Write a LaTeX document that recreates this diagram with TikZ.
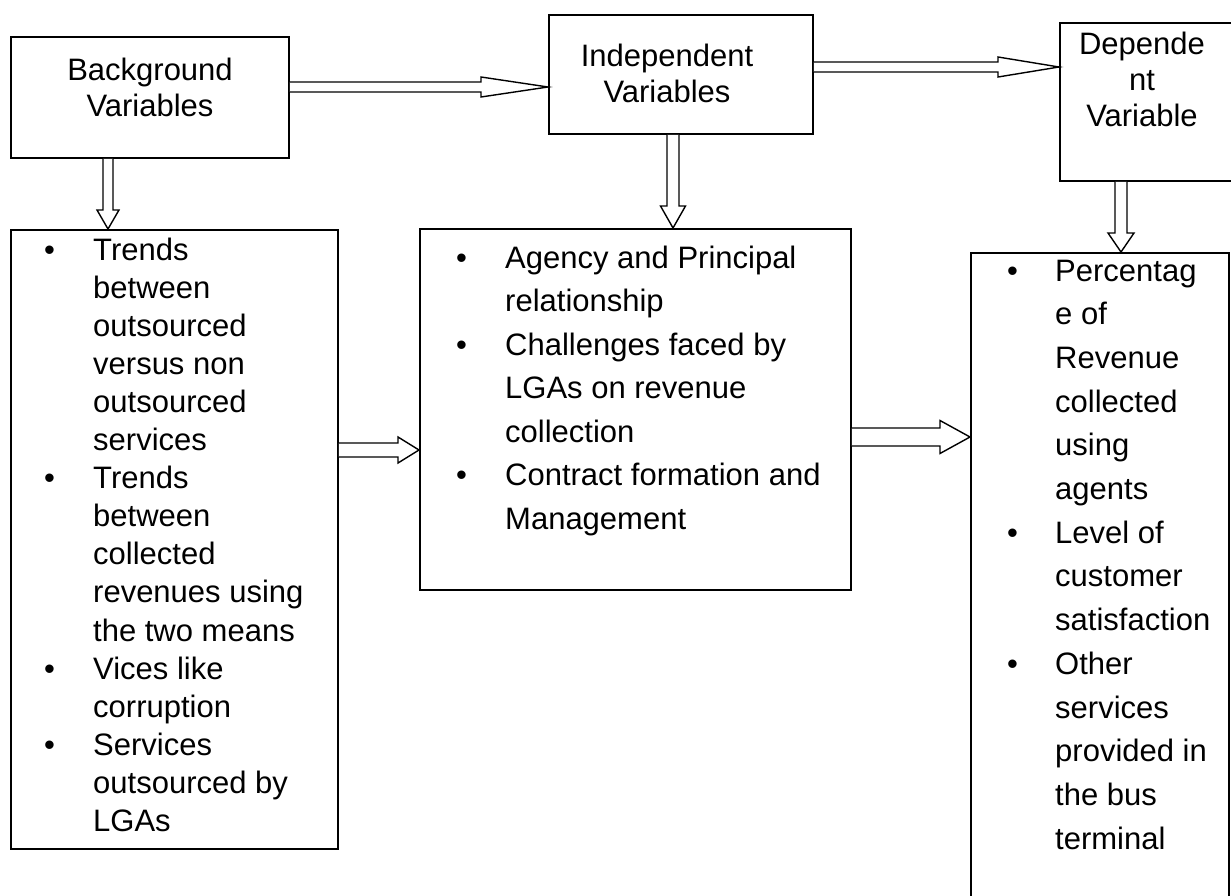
\documentclass[tikz,border=0pt]{standalone}
\usepackage{fontspec}
\setmainfont{Liberation Sans}
\usetikzlibrary{calc}
\tikzset{
  box/.style={draw=black, line width=1.8pt, fill=none, anchor=north west, inner sep=0pt},
  blk/.style={draw=black, line width=1.4pt, fill=white, line join=miter},
  ttl/.style={inner sep=0pt, anchor=base, font=\fontsize{31}{35.6}\selectfont},
  lst/.style={inner sep=0pt, anchor=base west},
}
\newcommand\rblock[5]{% start, tip, shaft half, head half, head length
  \draw[blk] ($(#1)+(0,-#3)$) -- ($(#2)+(-#5,-#3)$) -- ($(#2)+(-#5,-#4)$) -- (#2)
    -- ($(#2)+(-#5,#4)$) -- ($(#2)+(-#5,#3)$) -- ($(#1)+(0,#3)$);}
\newcommand\dblock[5]{% start, tip, shaft half, head half, head length
  \draw[blk] ($(#1)+(-#3,0)$) -- ($(#2)+(-#3,-#5)$) -- ($(#2)+(-#4,-#5)$) -- (#2)
    -- ($(#2)+(#4,-#5)$) -- ($(#2)+(#3,-#5)$) -- ($(#1)+(#3,0)$);}
\begin{document}
\begin{tikzpicture}[x=1pt,y=-1pt]
\useasboundingbox (0,0) rectangle (1231,896);
\fill[white] (0,0) rectangle (1231,896);

% boxes
\node[box, minimum width=278pt, minimum height=121pt] (b1) at (10,36) {};
\node[box, minimum width=264pt, minimum height=119pt] (b2) at (548,14) {};
\node[box, minimum width=190pt, minimum height=158pt] (b3) at (1059,22) {};
\node[box, minimum width=327pt, minimum height=619pt] (b4) at (10,229) {};
\node[box, minimum width=431pt, minimum height=361pt] (b5) at (419,228) {};
\node[box, minimum width=258pt, minimum height=680pt] (b6) at (970,252) {};

% titles
\node[ttl] (t1) at (150,81) {\begin{tabular}[t]{@{}c@{}}Background\\Variables\end{tabular}};
\node[ttl] (t2) at (667,67) {\begin{tabular}[t]{@{}c@{}}Independent\\Variables\end{tabular}};
\node[ttl] (t3) at (1142,55) {\begin{tabular}[t]{@{}c@{}}Depende\\nt\\Variable\end{tabular}};

% lists
\node[lst, font=\fontsize{31}{38.1}\selectfont] (l4) at (44,260) {\begin{tabular}[t]{@{}p{49pt}@{}l@{}}
\textbullet & Trends\\
 & between\\
 & outsourced\\
 & versus non\\
 & outsourced\\
 & services\\
\textbullet & Trends\\
 & between\\
 & collected\\
 & revenues using\\
 & the two means\\
\textbullet & Vices like\\
 & corruption\\
\textbullet & Services\\
 & outsourced by\\
 & LGAs
\end{tabular}};

\node[lst, font=\fontsize{31}{43.5}\selectfont] (l5) at (456,268) {\begin{tabular}[t]{@{}p{49pt}@{}l@{}}
\textbullet & Agency and Principal\\
 & relationship\\
\textbullet & Challenges faced by\\
 & LGAs on revenue\\
 & collection\\
\textbullet & Contract formation and\\
 & Management
\end{tabular}};

\node[lst, font=\fontsize{31}{43.7}\selectfont] (l6) at (1007,281) {\begin{tabular}[t]{@{}p{48pt}@{}l@{}}
\textbullet & Percentag\\
 & e of\\
 & Revenue\\
 & collected\\
 & using\\
 & agents\\
\textbullet & Level of\\
 & customer\\
 & satisfaction\\
\textbullet & Other\\
 & services\\
 & provided in\\
 & the bus\\
 & terminal
\end{tabular}};

% connectors (hollow block arrows)
\coordinate (aS) at (b1.east |- 0,87);
\coordinate (aT) at (b2.west |- aS);
\rblock{aS}{aT}{5}{10}{67}
\coordinate (bS) at (b2.east |- 0,67);
\coordinate (bT) at (b3.west |- bS);
\rblock{bS}{bT}{5}{10}{61}
\coordinate (cS) at (b1.south -| 108,0);
\coordinate (cT) at (b4.north -| cS);
\dblock{cS}{cT}{5}{11}{19}
\coordinate (dS) at (b2.south -| 673,0);
\coordinate (dT) at (b5.north -| dS);
\dblock{dS}{dT}{6}{12.5}{22}
\coordinate (eS) at (b3.south -| 1121,0);
\coordinate (eT) at (b6.north -| eS);
\dblock{eS}{eT}{6}{13}{19}
\coordinate (fS) at (b4.east |- 0,450);
\coordinate (fT) at (b5.west |- fS);
\rblock{fS}{fT}{7}{13}{21}
\coordinate (gS) at (b5.east |- 0,437);
\coordinate (gT) at (b6.west |- gS);
\rblock{gS}{gT}{9}{16.5}{30}
\end{tikzpicture}
\end{document}
